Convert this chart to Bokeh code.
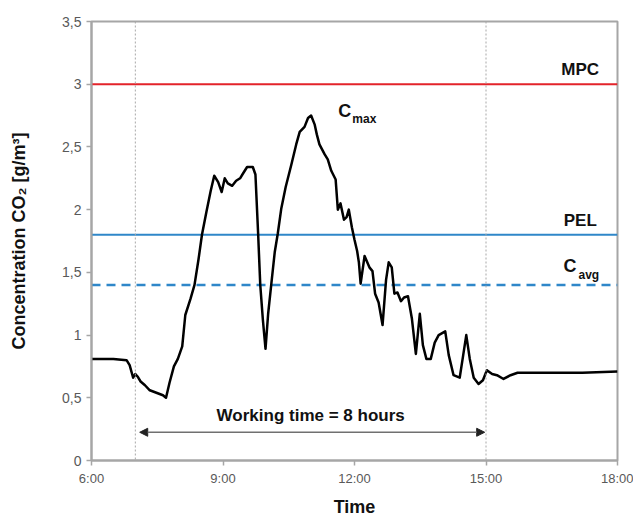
from bokeh.plotting import figure
from bokeh.models import Range1d, FixedTicker, Span, Arrow, NormalHead, Label
from bokeh.embed import file_html
from bokeh.resources import INLINE

# ---- data ----
time_h = [6.00, 6.50, 6.80, 6.87, 6.95, 7.00, 7.05, 7.12, 7.22, 7.33, 7.48, 7.63, 7.70,
          7.78, 7.88, 7.97, 8.07, 8.14, 8.26, 8.35, 8.44, 8.52, 8.62, 8.72, 8.80, 8.89,
          8.97, 9.04, 9.11, 9.21, 9.30, 9.39, 9.46, 9.55, 9.68, 9.74, 9.80, 9.85, 9.91,
          9.97, 10.03, 10.10, 10.18, 10.25, 10.33, 10.43, 10.56, 10.67, 10.75, 10.86,
          10.94, 11.01, 11.09, 11.14, 11.20, 11.32, 11.39, 11.47, 11.57, 11.62, 11.68,
          11.76, 11.82, 11.87, 11.94, 12.00, 12.06, 12.10, 12.14, 12.23, 12.34, 12.41,
          12.47, 12.55, 12.64, 12.72, 12.78, 12.85, 12.91, 12.98, 13.06, 13.13, 13.22,
          13.31, 13.40, 13.49, 13.56, 13.64, 13.74, 13.83, 13.92, 14.07, 14.15, 14.26,
          14.40, 14.48, 14.55, 14.63, 14.72, 14.83, 14.93, 15.02, 15.14, 15.25, 15.40,
          15.56, 15.72, 16.50, 17.20, 18.00]
co2 = [0.81, 0.81, 0.80, 0.76, 0.66, 0.69, 0.67, 0.63, 0.60, 0.56, 0.54, 0.52, 0.50,
       0.62, 0.75, 0.81, 0.91, 1.16, 1.29, 1.40, 1.60, 1.80, 1.98, 2.15, 2.27, 2.22,
       2.14, 2.25, 2.21, 2.19, 2.23, 2.25, 2.29, 2.34, 2.34, 2.28, 1.82, 1.40, 1.12,
       0.89, 1.17, 1.40, 1.66, 1.81, 2.01, 2.18, 2.36, 2.52, 2.62, 2.66,
       2.73, 2.75, 2.68, 2.60, 2.52, 2.44, 2.40, 2.31, 2.24, 2.00, 2.05,
       1.92, 1.94, 2.00, 1.86, 1.76, 1.67, 1.58, 1.41, 1.63, 1.54, 1.51,
       1.33, 1.26, 1.08, 1.44, 1.58, 1.54, 1.33, 1.34, 1.27, 1.30, 1.31,
       1.13, 0.85, 1.17, 0.92, 0.81, 0.81, 0.94, 1.00, 1.03, 0.84, 0.68,
       0.66, 0.84, 1.00, 0.81, 0.66, 0.61, 0.64, 0.72, 0.69, 0.68, 0.65,
       0.68, 0.70, 0.70, 0.70, 0.71]

mpc_level = 3.0
pel_level = 1.8
cavg_level = 1.4
work_start = 7
work_end = 15

x_ticks = [6, 9, 12, 15, 18]
x_tick_labels = ["6:00", "9:00", "12:00", "15:00", "18:00"]
y_ticks = [0, 0.5, 1, 1.5, 2, 2.5, 3, 3.5]
y_tick_labels = ["0", "0,5", "1", "1,5", "2", "2,5", "3", "3,5"]

FONT = "Liberation Sans"
GRAY = "#a6a6a6"

p = figure(width=633, height=519, output_backend="svg", toolbar_location=None,
           x_range=Range1d(x_ticks[0], x_ticks[-1]), y_range=Range1d(y_ticks[0], y_ticks[-1]),
           min_border_left=91, min_border_right=16, min_border_top=21, min_border_bottom=59)
p.background_fill_color = "white"
p.border_fill_color = "white"
p.outline_line_color = GRAY
p.outline_line_width = 2
p.xgrid.visible = False
p.ygrid.visible = False

# axes
p.xaxis.ticker = FixedTicker(ticks=x_ticks)
p.xaxis.major_label_overrides = dict(zip(x_ticks, x_tick_labels))
p.yaxis.ticker = FixedTicker(ticks=y_ticks)
p.yaxis.major_label_overrides = dict(zip(y_ticks, y_tick_labels))
for ax in (p.xaxis[0], p.yaxis[0]):
    ax.axis_line_color = GRAY
    ax.axis_line_width = 2
    ax.major_tick_line_color = GRAY
    ax.major_tick_line_width = 1.5
    ax.major_tick_out = 5
    ax.major_tick_in = 0
    ax.minor_tick_line_color = None
    ax.major_label_text_font = FONT
    ax.major_label_text_color = "#595959"
    ax.axis_label_text_font = FONT
    ax.axis_label_text_font_style = "bold"
    ax.axis_label_text_color = "#111111"
    ax.axis_label_text_font_size = "18px"
p.xaxis.major_label_text_font_size = "13px"
p.yaxis.major_label_text_font_size = "14px"
p.xaxis.major_label_standoff = 5
p.yaxis.major_label_standoff = 5
p.xaxis.axis_label = "Time"
p.xaxis.axis_label_standoff = 8
p.yaxis.axis_label = "Concentration CO\u2082 [g/m\u00b3]"
p.yaxis.axis_label_standoff = 30

# working-time boundaries
for loc in (work_start, work_end):
    p.add_layout(Span(location=loc, dimension="height", line_color="#a8a8a8",
                      line_dash="2 2", line_width=1))

xr = [x_ticks[0], x_ticks[-1]]
p.line(xr, [mpc_level, mpc_level], line_color="#e3232a", line_width=2)
p.line(xr, [pel_level, pel_level], line_color="#2f87c9", line_width=2)
p.line(xr, [cavg_level, cavg_level], line_color="#2f87c9", line_width=2.5, line_dash="9 6")

# concentration curve
p.line(time_h, co2, line_color="black", line_width=2.5, line_join="round")

# arrow for working time
p.add_layout(Arrow(start=NormalHead(size=8, fill_color="#222222", line_color="#222222"),
                   end=NormalHead(size=8, fill_color="#222222", line_color="#222222"),
                   x_start=work_start + 0.1, y_start=0.225, x_end=work_end - 0.03, y_end=0.225,
                   line_color="#707070", line_width=1.5))

def lab(x, y, text, size, align="center"):
    p.add_layout(Label(x=x, y=y, text=text, text_font=FONT, text_font_style="bold",
                       text_font_size=size, text_align=align, text_baseline="middle",
                       text_color="#111111"))

lab(11.0, 0.36, "Working time = 8 hours", "17px")
lab(17.15, 3.12, "MPC", "17px")
lab(17.15, 1.91, "PEL", "17px")
lab(16.77, 1.55, "C", "18px", "left")
lab(17.11, 1.48, "avg", "12px", "left")
lab(11.63, 2.79, "C", "18px", "left")
lab(11.95, 2.72, "max", "12px", "left")

open("out.html", "w").write(file_html(p, INLINE))
